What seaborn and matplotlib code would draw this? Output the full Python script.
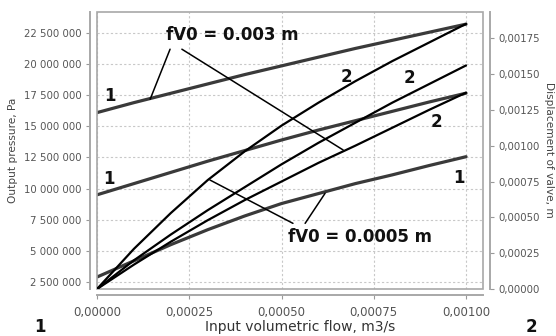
import matplotlib
matplotlib.use("Agg")
import matplotlib.pyplot as plt
import seaborn as sns
import pandas as pd
from matplotlib.patches import Rectangle

# ---------------- data ----------------
flow = [0.0, 0.0001, 0.0002, 0.0003, 0.0004, 0.0005, 0.0006, 0.0007, 0.0008, 0.0009, 0.001]

# Output pressure, Pa (curves "1", left axis)
p_fv0_003 = [16.1e6, 16.9e6, 17.65e6, 18.4e6, 19.15e6, 19.85e6, 20.55e6, 21.25e6, 21.9e6, 22.55e6, 23.2e6]
p_mid = [9.5e6, 10.4e6, 11.3e6, 12.2e6, 13.05e6, 13.9e6, 14.7e6, 15.45e6, 16.2e6, 16.95e6, 17.66e6]
p_fv0_0005 = [2.9e6, 4.2e6, 5.5e6, 6.7e6, 7.8e6, 8.8e6, 9.6e6, 10.4e6, 11.1e6, 11.85e6, 12.56e6]

# Displacement of valve, m (curves "2", right axis)
d_fv0_0005 = [0.0, 0.00028, 0.00053, 0.00076, 0.00096, 0.00114, 0.0013, 0.00145, 0.00159, 0.00172, 0.00185]
d_mid = [0.0, 0.0002, 0.00038, 0.00055, 0.00071, 0.00087, 0.00102, 0.00116, 0.0013, 0.00143, 0.00156]
d_fv0_003 = [0.0, 0.00017, 0.00033, 0.00048, 0.00062, 0.00075, 0.00088, 0.001, 0.001125, 0.00125, 0.00137]

x_ticks = [0.0, 0.00025, 0.0005, 0.00075, 0.001]
x_tick_labels = ["0,00000", "0,00025", "0,00050", "0,00075", "0,00100"]
p_ticks = [2.5e6, 5e6, 7.5e6, 10e6, 12.5e6, 15e6, 17.5e6, 20e6, 22.5e6]
p_tick_labels = ["2 500 000", "5 000 000", "7 500 000", "10 000 000", "12 500 000",
                 "15 000 000", "17 500 000", "20 000 000", "22 500 000"]
d_ticks = [0.0, 0.00025, 0.0005, 0.00075, 0.001, 0.00125, 0.0015, 0.00175]
d_tick_labels = ["0,00000", "0,00025", "0,00050", "0,00075", "0,00100", "0,00125", "0,00150", "0,00175"]

# ---------------- style ----------------
sns.set_theme(style="white")
plt.rcParams['font.family'] = ['DejaVu Sans']

W, H = 556, 336
fig = plt.figure(figsize=(W / 100, H / 100), dpi=100)
L, R, T, B = 97, 483, 11.7, 289
ax = fig.add_axes([L / W, 1 - B / H, (R - L) / W, (B - T) / H])
ax2 = ax.twinx()

# spines first (set_position resets tick properties)
for s in ["top", "right"]:
    ax.spines[s].set_visible(False)
for s in ["top", "left", "bottom"]:
    ax2.spines[s].set_visible(False)
ax.spines["left"].set_position(("outward", 5))
ax.spines["bottom"].set_position(("outward", 4))
ax2.spines["right"].set_position(("outward", 5))
for sp in [ax.spines["left"], ax.spines["bottom"], ax2.spines["right"]]:
    sp.set_color("#a8a8a8")
    sp.set_linewidth(1.4)

ax.set_xlim(0, 0.001046)
ax.set_ylim(1.94e6, 24.2e6)
ax2.set_ylim(0, 0.001935)

# grid
for xv in x_ticks:
    ax.axvline(xv, color="#c8c8c8", lw=0.8, ls=(0, (2, 2)), zorder=0)
for yv in p_ticks:
    ax.axhline(yv, color="#c8c8c8", lw=0.8, ls=(0, (2, 2)), zorder=0)

df_p = pd.DataFrame({"flow": flow, "a": p_fv0_003, "b": p_mid, "c": p_fv0_0005})
df_d = pd.DataFrame({"flow": flow, "a": d_fv0_0005, "b": d_mid, "c": d_fv0_003})

for col in ["a", "b", "c"]:
    sns.lineplot(data=df_p, x="flow", y=col, ax=ax, color="#3a3a3a", lw=2.3, sort=False)
    sns.lineplot(data=df_d, x="flow", y=col, ax=ax2, color="#000000", lw=1.6, sort=False)

# ticks & labels
ax.set_xticks(x_ticks)
ax.set_xticklabels(x_tick_labels)
ax.set_yticks(p_ticks)
ax.set_yticklabels(p_tick_labels)
ax2.set_yticks(d_ticks)
ax2.set_yticklabels(d_tick_labels)
ax.tick_params(axis="x", length=3, width=0.8, color="#999999", pad=5, direction="out",
               bottom=True, labelsize=8.5, labelcolor="#555555")
ax.tick_params(axis="y", length=3, width=0.8, color="#999999", pad=3, direction="out",
               left=True, labelsize=7.3, labelcolor="#555555")
ax2.tick_params(axis="y", length=3, width=0.8, color="#999999", pad=3, direction="out",
                right=True, labelsize=7.3, labelcolor="#555555")
ax.set_ylabel("")
ax2.set_ylabel("")
ax.set_xlabel("Input volumetric flow, m3/s", fontsize=10, color="#333333")
ax.xaxis.set_label_coords((300 - L) / (R - L), -(320 - B) / (B - T))

ax.add_patch(Rectangle((0, 0), 1, 1, transform=ax.transAxes, fill=False,
                       edgecolor="#a8a8a8", lw=1.2, clip_on=False, zorder=5))

fig.text(13 / W, 1 - 150 / H, "Output pressure, Pa", rotation=90, ha="center", va="center",
         fontsize=7.6, color="#444444")
fig.text(549 / W, 1 - 150 / H, "Displacement of valve, m", rotation=270, ha="center", va="center",
         fontsize=7.6, color="#444444")
fig.text(40 / W, 1 - 327 / H, "1", ha="center", va="center", fontsize=12, fontweight="bold", color="#111111")
fig.text(531 / W, 1 - 327 / H, "2", ha="center", va="center", fontsize=12, fontweight="bold", color="#111111")

# curve labels
bold = dict(fontsize=12, fontweight="bold", color="#111111", ha="center", va="center", zorder=6)
for (xv, yv) in [(0.0000352, 17.44e6), (0.0000325, 10.77e6), (0.000981, 10.85e6)]:
    ax.text(xv, yv, "1", **bold)
for (xv, yv) in [(0.000677, 18.99e6), (0.000848, 18.89e6), (0.000921, 15.38e6)]:
    ax.text(xv, yv, "2", **bold)

ax.text(0.000366, 22.34e6, "fV0 = 0.003 m", **bold)
ax.text(0.000713, 6.11e6, "fV0 = 0.0005 m", **bold)
lead = dict(arrowprops=dict(arrowstyle="-", color="black", lw=1.1, shrinkA=0, shrinkB=0))
ax.annotate("", xy=(0.000144, 17.17e6), xytext=(0.000198, 21.19e6), **lead)
ax.annotate("", xy=(0.000667, 13.1e6), xytext=(0.00023, 21.19e6), **lead)
ax.annotate("", xy=(0.000306, 10.69e6), xytext=(0.000531, 7.21e6), **lead)
ax.annotate("", xy=(0.000618, 9.62e6), xytext=(0.000564, 7.21e6), **lead)

fig.savefig("out.png", dpi=100)
